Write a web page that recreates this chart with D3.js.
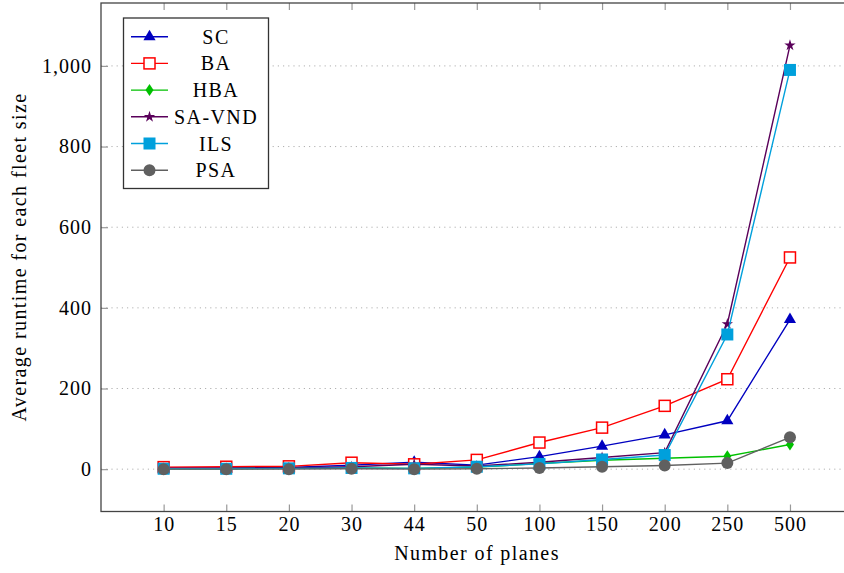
<!DOCTYPE html>
<html>
<head>
<meta charset="utf-8">
<title>Average runtime per fleet size</title>
<script src="https://d3js.org/d3.v7.min.js"></script>
<style>
  body { margin: 0; background: #fff; }
</style>
</head>
<body>
<div id="chart"></div>
<script>
// Data
var categories = ["10", "15", "20", "30", "44", "50", "100", "150", "200", "250", "500"];
var scValues    = [3, 3, 4, 10, 17, 10, 31, 57, 85, 120, 371];
var baValues    = [5, 6, 7, 16, 12, 23, 66, 103, 157, 223, 525];
var hbaValues   = [1, 1, 2, 3, 2, 5, 14, 22, 27, 32, 61];
var savndValues = [2, 2, 3, 6, 12, 8, 17, 29, 41, 360, 1051];
var ilsValues   = [1, 1, 2, 3, 2, 6, 13, 24, 35, 334, 990];
var psaValues   = [0, 0, 0, 1, 0, 1, 3, 6, 9, 15, 79];
var yTicks = [0, 200, 400, 600, 800, 1000];

var series = [
  {name: "SC",     values: scValues,    color: "#0000c0", marker: "triangle"},
  {name: "BA",     values: baValues,    color: "#ff0000", marker: "square-open"},
  {name: "HBA",    values: hbaValues,   color: "#00c000", marker: "diamond"},
  {name: "SA-VND", values: savndValues, color: "#5a005a", marker: "star"},
  {name: "ILS",    values: ilsValues,   color: "#00a0dc", marker: "square"},
  {name: "PSA",    values: psaValues,   color: "#606060", marker: "circle"}
];

const width = 844, height = 573;
const plot = {left: 101, right: 852.6, top: 3, bottom: 511.5};
const serif = "'Liberation Serif', 'DejaVu Serif', 'Times New Roman', serif";
const spacing = "1.4px";   // widen Times-like glyphs toward Computer Modern proportions

var svg = d3.select("#chart").append("svg")
  .attr("width", width)
  .attr("height", height)
  .attr("font-family", serif);

// Scales
var xScale = d3.scaleLinear()
  .domain([-1, categories.length])
  .range([plot.left, plot.right]);

var yScale = d3.scaleLinear()
  .domain([-105, 1156])
  .range([plot.bottom, plot.top]);

// Dotted grid
svg.append("g").selectAll("line")
  .data(yTicks)
  .join("line")
    .attr("x1", plot.left).attr("x2", plot.right)
    .attr("y1", d => yScale(d)).attr("y2", d => yScale(d))
    .attr("stroke", "#b0b0b0")
    .attr("stroke-width", 1)
    .attr("stroke-dasharray", "1.2,4");

// X axis (ticks inside, mirrored on top)
var xAxis = svg.append("g")
  .attr("transform", "translate(0," + plot.bottom + ")")
  .call(d3.axisBottom(xScale)
    .tickValues(d3.range(categories.length))
    .tickFormat(i => categories[i])
    .tickSize(-7)
    .tickPadding(5));
xAxis.attr("font-family", serif);
xAxis.select(".domain").remove();
xAxis.selectAll(".tick line").attr("stroke", "#999").attr("stroke-width", 1.2);
xAxis.selectAll(".tick text")
  .attr("font-size", 20).attr("fill", "#000")
  .attr("font-family", serif)
  .attr("letter-spacing", "1px");

var xAxisTop = svg.append("g")
  .attr("transform", "translate(0," + plot.top + ")")
  .call(d3.axisTop(xScale)
    .tickValues(d3.range(categories.length))
    .tickFormat("")
    .tickSize(-7));
xAxisTop.select(".domain").remove();
xAxisTop.selectAll(".tick line").attr("stroke", "#999").attr("stroke-width", 1.2);

// Y axis
var yAxis = svg.append("g")
  .attr("transform", "translate(" + plot.left + ",0)")
  .call(d3.axisLeft(yScale)
    .tickValues(yTicks)
    .tickFormat(d3.format(","))
    .tickSize(-7)
    .tickPadding(9));
yAxis.attr("font-family", serif);
yAxis.select(".domain").remove();
yAxis.selectAll(".tick line").attr("stroke", "#999").attr("stroke-width", 1.2);
yAxis.selectAll(".tick text")
  .attr("font-size", 20).attr("fill", "#000")
  .attr("font-family", serif)
  .attr("letter-spacing", "1px");

// Frame
svg.append("rect")
  .attr("x", plot.left).attr("y", plot.top)
  .attr("width", plot.right - plot.left)
  .attr("height", plot.bottom - plot.top)
  .attr("fill", "none")
  .attr("stroke", "#444")
  .attr("stroke-width", 1.3);

// Axis labels
svg.append("text")
  .attr("x", 477)
  .attr("y", 560)
  .attr("text-anchor", "middle")
  .attr("font-size", 20)
  .attr("font-family", serif)
  .attr("letter-spacing", spacing)
  .text("Number of planes");

svg.append("text")
  .attr("transform", "translate(26,257) rotate(-90)")
  .attr("text-anchor", "middle")
  .attr("font-size", 20)
  .attr("font-family", serif)
  .attr("letter-spacing", spacing)
  .text("Average runtime for each fleet size");

// Marker drawing helper
function drawMarker(g, type, color) {
  if (type === "triangle") {
    g.append("path").attr("d", d3.symbol(d3.symbolTriangle, 64)()).attr("fill", color);
  } else if (type === "square-open") {
    g.append("rect").attr("x", -5.5).attr("y", -5.5).attr("width", 11).attr("height", 11)
      .attr("fill", "#fff").attr("stroke", color).attr("stroke-width", 1.5);
  } else if (type === "diamond") {
    g.append("path").attr("d", "M0,-6L4,0L0,6L-4,0Z").attr("fill", color);
  } else if (type === "star") {
    g.append("path").attr("d", d3.symbol(d3.symbolStar, 40)()).attr("fill", color);
  } else if (type === "square") {
    g.append("rect").attr("x", -6).attr("y", -6).attr("width", 12).attr("height", 12).attr("fill", color);
  } else if (type === "circle") {
    g.append("circle").attr("r", 6).attr("fill", color);
  }
}

var line = d3.line()
  .x((d, i) => xScale(i))
  .y(d => yScale(d));

// Lines and markers
series.forEach(function(s) {
  var g = svg.append("g");
  g.append("path")
    .datum(s.values)
    .attr("d", line)
    .attr("fill", "none")
    .attr("stroke", s.color)
    .attr("stroke-width", 1.4);
  s.values.forEach(function(v, i) {
    var m = g.append("g").attr("transform", "translate(" + xScale(i) + "," + yScale(v) + ")");
    drawMarker(m, s.marker, s.color);
  });
});

// Legend
var legend = svg.append("g");
legend.append("rect")
  .attr("x", 123.5).attr("y", 18)
  .attr("width", 145).attr("height", 170.5)
  .attr("fill", "#fff")
  .attr("stroke", "#333")
  .attr("stroke-width", 1.3);

series.forEach(function(s, i) {
  var y = 36.7 + i * 26.7;
  var item = legend.append("g");
  item.append("line")
    .attr("x1", 131).attr("x2", 168)
    .attr("y1", y).attr("y2", y)
    .attr("stroke", s.color).attr("stroke-width", 1.4);
  var m = item.append("g").attr("transform", "translate(149.5," + y + ")");
  drawMarker(m, s.marker, s.color);
  item.append("text")
    .attr("x", 216).attr("y", y + 7)
    .attr("text-anchor", "middle")
    .attr("font-size", 20)
    .attr("font-family", serif)
    .attr("letter-spacing", spacing)
    .text(s.name);
});
</script>
</body>
</html>
